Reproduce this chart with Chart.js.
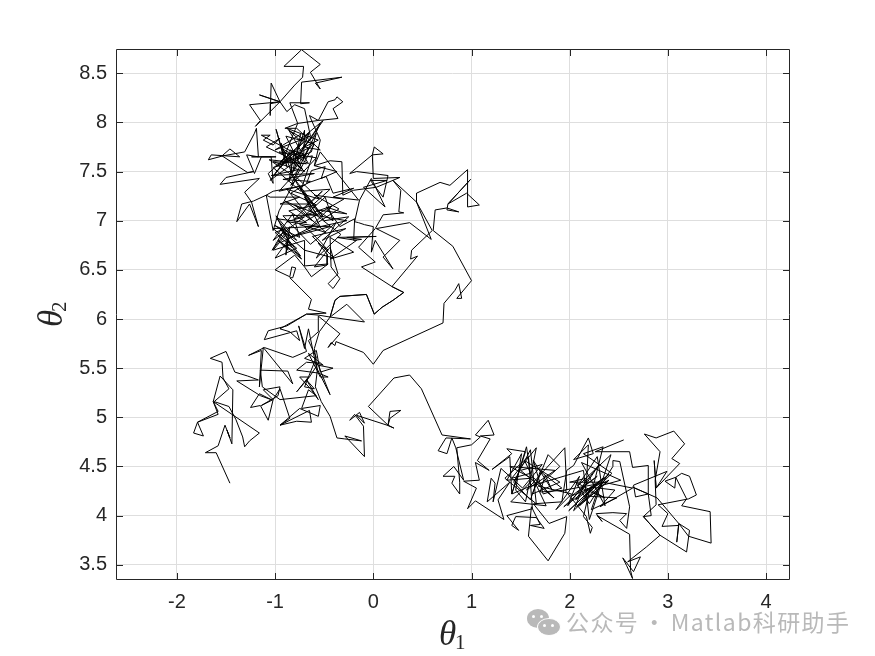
<!DOCTYPE html>
<html><head><meta charset="utf-8">
<style>
html,body{margin:0;padding:0;background:#fff;width:875px;height:656px;overflow:hidden}
#wrap{position:relative;width:875px;height:656px}
canvas{display:block}
#mark{position:absolute;left:566px;top:605px;font:23px "Noto Sans CJK SC","Noto Sans",sans-serif;color:#b9b9b9;letter-spacing:1.4px;white-space:nowrap;line-height:32px}
#mark span{margin:0 -3px 0 -3px}
.b{position:absolute;background:#b9b9b9;border-radius:50%}
.e{position:absolute;background:#fff;border-radius:50%;width:3px;height:3px}
</style></head><body>
<div id="wrap"><canvas id="c" width="875" height="656"></canvas>
<div class="b" style="left:527px;top:609px;width:22px;height:19px"></div>
<div class="e" style="left:532px;top:615px"></div><div class="e" style="left:540px;top:615px"></div>
<div class="b" style="left:537px;top:618px;width:22px;height:16px;border:1px solid #fff"></div>
<div class="e" style="left:543px;top:624px"></div><div class="e" style="left:551px;top:624px"></div>
<div id="mark">公众号<span> · </span>Matlab科研助手</div></div>
<script src="https://cdn.jsdelivr.net/npm/chart.js@4"></script>
<script>
const xTicks=[-2,-1,0,1,2,3,4];
const yTicks=[3.5,4,4.5,5,5.5,6,6.5,7,7.5,8,8.5];

const lowerT1=[-1.46,-1.60,-1.71,-1.58,-1.51,-1.46,-1.49,-1.44,-1.43,-1.56,
-1.63,-1.58,-1.79,-1.73,-1.83,-1.79,-1.58,-1.63,-1.16,-1.26,
-1.31,-1.33,-1.40,-1.47,-1.62,-1.47,-1.53,-1.54,-1.66,-1.50,
-1.41,-1.28,-1.17,-1.39,-1.15,-1.04,-1.16,-1.25,-1.15,-1.07,
-1.02,-1.12,-0.95,-0.97,-1.14,-1.02,-0.95,-0.85,-0.95,-0.65,
-0.63,-0.78,-0.95,-0.75,-0.56,-0.54,-0.73,-0.66,-0.58,-0.95];
const lowerT2=[4.33,4.64,4.64,4.71,4.92,4.79,4.87,4.73,5.28,5.42,
5.16,5.03,4.95,4.81,4.84,4.95,5.06,5.16,4.84,4.76,
4.70,4.80,4.98,5.11,5.16,5.29,5.40,5.56,5.60,5.67,
5.46,5.42,5.38,5.37,5.22,5.18,5.24,5.10,5.12,4.97,
5.18,5.28,5.31,5.22,5.12,5.18,5.29,4.99,4.92,5.07,
4.95,4.96,4.92,5.09,5.01,5.12,5.09,5.28,5.22,5.18];

const midT1=[-1.13,-1.15,-0.87,-0.82,-1.12,-1.16,-1.14,-1.27,-1.11,-0.82,
-0.68,-0.76,-0.70,-0.66,-0.58,-0.44,-0.56,-0.41,-0.54,-0.58,
-0.70,-0.51,-0.66,-0.54,-0.46,-0.56,-0.78,-0.68,-0.56,-0.65,
-0.78,-0.66,-0.75,-0.63,-0.56,-0.68,-0.60,-0.70,-0.58,-0.66,
-0.56,-0.56,-0.34,-0.46,-0.43,-0.39,-0.38,-0.10,0.00,0.10,
0.71,0.72,0.83];
const midT2=[5.31,5.48,5.47,5.34,5.71,5.31,5.68,5.63,5.71,5.61,
5.67,5.93,5.70,5.90,5.51,5.23,5.53,5.50,5.46,5.68,
5.60,5.53,5.65,5.41,5.41,5.45,5.48,5.56,5.55,5.41,
5.26,5.41,5.41,5.28,5.18,5.38,5.29,5.31,5.61,5.78,
5.87,6.03,5.85,5.71,5.76,5.73,5.77,5.66,5.54,5.68,
5.96,6.16,6.29];

const rightLoopT1=[0.87,0.90,0.85,1.00,0.81,0.61,0.63,0.75,0.87,0.75,
0.76,0.99,0.76,0.95,1.08,0.96,0.96,0.78,0.68,0.44,
0.44,0.60,0.39,0.38,0.45,0.19,0.31,0.20,0.09,0.01,
-0.07,-0.34,-0.39,-0.44,-0.27,-0.09,-0.44,-0.56,-0.68,-0.88,
-1.07,-1.11,-0.78,-0.75,-0.85,-0.95,-0.88,-0.68,-0.48,-0.66,
-0.63];
const rightLoopT2=[6.36,6.21,6.21,6.39,6.74,6.90,7.11,7.13,7.09,7.11,
7.17,7.42,7.17,7.28,7.16,7.14,7.52,7.36,7.39,7.28,
7.19,6.90,6.70,6.61,6.64,6.33,6.27,6.19,6.12,6.05,
6.25,6.23,6.19,6.02,6.15,5.97,6.02,6.04,6.05,5.93,
5.88,5.79,5.88,5.78,5.87,5.90,5.94,6.05,6.06,6.10,
6.20];

const upperLowT1=[-0.85,-0.82,-0.79,-0.83,-0.85,-1.00,-0.80,-0.70,-0.63,-0.46,
-0.70,-0.70,-1.02,-0.88,-0.87,-0.97,-0.73,-0.88,-0.89,-0.85,
-1.03,-0.90,-1.00,-0.83,-0.99,-0.78,-1.00,-0.75,-0.82,-1.02,
-0.70,-0.88,-0.54,-0.85,-0.44,-0.70,-0.58,-0.46,-0.56,-0.47,
-0.47,-0.60,-0.44,-0.36,-0.46,-0.41,-0.34,-0.43,-0.44,-0.20,
-0.44,-0.17,-0.37,0.03,-0.27,-0.12,-0.20,-0.19,-0.34,-0.48,
-0.27,-0.58,-0.41,-0.49,-0.68,-0.27,-0.54,-0.70,-0.58,-0.75,
-0.51,-0.82,-0.65,-0.95,-0.75,-1.05,-1.09,-1.02];
const upperLowT2=[6.42,6.42,6.52,6.53,6.43,6.50,6.65,6.53,6.43,6.56,
6.54,6.80,6.70,6.87,6.70,6.80,6.61,6.80,6.65,6.94,
6.70,6.92,6.88,6.73,7.05,6.80,6.95,6.83,7.07,6.80,
7.04,6.99,6.94,6.83,6.94,6.94,6.83,6.70,6.77,6.66,
6.55,6.53,6.73,6.46,6.36,6.31,6.41,6.53,6.83,6.68,
6.61,6.80,6.83,6.84,6.83,6.81,6.80,7.02,6.94,7.14,
7.07,7.11,7.00,7.24,7.07,7.00,6.94,7.24,7.07,7.34,
7.04,7.45,7.17,7.17,7.24,7.24,7.26,6.90];

const upperDenseT1=[-0.96,-0.78,-0.55,-0.88,-0.62,-0.90,-0.72,-0.52,-0.80,-0.42,
-0.66,-0.35,-0.60,-0.30,-0.75,-0.48,-0.80,-0.56,-0.92,-0.64,
-0.38,-0.58,-0.33,-0.66,-0.44,-0.72,-0.50,-0.25,-0.52,-0.28,
-0.62,-0.40,-0.70,-0.95,-0.74,-0.94,-0.62,-1.02,-0.78,-1.00,
-0.84,-0.98,-0.68,-0.86,-0.58,-0.84,-0.64,-0.92,-0.60,-1.04,
-0.76,-0.96,-0.70,-1.02];
const upperDenseT2=[7.10,7.44,7.22,7.32,7.00,7.20,7.12,7.30,7.02,7.15,
6.92,7.12,7.26,7.22,6.96,6.88,7.16,7.06,7.05,6.76,
6.98,6.62,6.86,7.12,7.32,7.30,7.00,7.04,6.80,6.92,
6.84,6.62,6.70,6.92,6.64,6.78,6.94,6.92,6.72,6.62,
6.84,7.02,6.98,7.10,7.16,7.28,7.40,7.42,7.48,7.46,
7.52,7.30,7.36,7.30];

const upperLeftT1=[-1.09,-1.22,-1.34,-1.39,-1.26,-1.17,-1.24,-1.31,-1.16,-1.56,
-1.50,-1.22,-1.28,-1.54,-1.46,-1.36,-1.65,-1.68,-1.53,-1.31,
-1.21,-1.19,-1.17,-1.29,-1.21,-1.14,-0.99,-1.24,-1.04,-1.02,
-1.07,-0.85,-1.05,-0.73];
const upperLeftT2=[7.26,7.20,7.17,6.99,7.17,6.94,7.19,7.29,7.43,7.37,
7.44,7.50,7.49,7.66,7.73,7.65,7.67,7.62,7.66,7.70,
7.89,7.94,7.65,7.67,7.48,7.65,7.65,7.65,7.65,7.38,
7.48,7.68,7.41,7.65];

const coreT1=[-1.14,-1.05,-1.12,-1.02,-0.95,-1.09,-0.92,-0.99,-0.88,-0.94,
-0.83,-0.85,-0.71,-0.99,-0.63,-0.58,-0.78,-0.70,-0.71,-0.54,
-0.82,-0.51,-0.75,-0.88,-0.56,-0.70,-0.54,-0.78,-0.90,-0.77,
-0.92,-0.71,-1.00,-0.65,-0.86,-0.80,-0.95,-0.62,-0.74,-1.02,
-0.66,-0.84,-0.58,-0.96,-0.72,-0.89,-0.60,-0.79,-1.06,-0.68,
-1.02,-0.70,-0.94,-0.66,-0.86,-0.62,-0.82,-0.74,-1.00,-0.64];
const coreT2=[7.87,7.87,7.82,7.77,7.84,7.75,7.67,7.93,7.55,7.79,
7.48,7.72,7.68,7.55,7.70,7.89,7.68,7.92,7.62,7.99,
7.58,8.02,7.82,7.94,7.82,7.75,7.72,7.94,7.94,7.99,
7.62,7.80,7.48,7.90,7.40,7.72,7.60,7.66,7.30,7.54,
7.74,7.36,7.64,7.70,7.52,7.86,7.78,7.44,7.62,7.58,
7.60,7.50,7.74,7.58,7.92,7.78,7.50,7.88,7.72,7.86];

const upperTopT1=[-0.70,-0.80,-0.88,-0.95,-1.04,-1.05,-1.05,-0.95,-1.16,-0.95,
-1.26,-1.15,-1.20,-0.95,-0.80,-0.72,-0.71,-0.91,-0.73,-0.54,
-0.64,-0.54,-0.59,-0.32,-0.73,-0.74,-0.65,-0.85,-0.77,-0.56,
-0.36,-0.41,-0.31,-0.37,-0.39,-0.46,-0.56,-0.65,-0.54];
const upperTopT2=[8.14,8.18,8.11,8.21,8.40,8.07,8.19,8.21,8.28,8.21,
8.18,8.02,7.96,8.21,8.38,8.46,8.57,8.57,8.74,8.59,
8.51,8.34,8.40,8.46,8.41,8.19,8.20,8.20,7.99,8.02,
8.04,8.14,8.21,8.26,8.23,8.21,8.02,8.07,7.82];

const upperRightT1=[-0.60,-0.37,-0.53,-0.49,-0.63,-0.68,-0.48,-0.41,-0.20,-0.41,
-0.15,-0.54,-0.60,-0.44,-0.32,-0.31,-0.20,0.03,0.27,0.00,
-0.01,0.01,0.10,-0.01,-0.24,-0.17,0.15,0.10,-0.03,0.14,
-0.10,0.12,-0.02,-0.14,-0.19,-0.15,-0.09,0.00,-0.02,0.02,
0.20,0.10,0.27,0.03,0.37,0.59,0.44,0.20,0.28,0.26,
0.31,0.10,0.02,-0.15,0.02,-0.12,0.19,0.31,0.20,0.09,0.01,
-0.07,-0.34,-0.39,-0.44,-0.55,-0.60,-0.57,-0.59,-0.53];
const upperRightT2=[7.56,7.50,7.43,7.55,7.51,7.38,7.45,7.28,7.33,7.24,
7.21,7.70,7.56,7.61,7.60,7.26,7.31,7.34,7.44,7.43,
7.67,7.75,7.68,7.67,7.48,7.50,7.46,7.24,7.41,7.41,
7.34,7.14,7.43,7.21,6.99,6.98,6.96,6.94,6.68,6.80,
6.51,6.63,6.80,6.92,6.98,6.81,7.19,7.41,7.31,7.09,
7.08,7.06,6.92,6.73,6.58,6.53,6.33,6.27,6.19,6.12,6.05,
6.25,6.23,6.19,6.02,5.87,5.70,5.48,5.31,5.16];

const bridgeT1=[-0.44,-0.37,-0.29,-0.12,-0.29,-0.09,-0.10,-0.19,-0.24,-0.14,
-0.09,-0.17,0.14,0.21,0.15,0.17,0.28,0.17,0.15,-0.05,
0.21,0.37,0.49,0.70];
const bridgeT2=[5.01,4.79,4.78,4.76,4.81,4.60,4.91,5.03,4.97,5.05,
4.94,5.02,4.92,4.89,4.92,4.99,5.07,5.06,4.92,5.11,
5.40,5.43,5.29,4.82];

const clusterLeftT1=[0.99,0.74,0.66,0.75,0.80,0.84,0.92,0.82,0.71,0.83,
0.80,0.88,0.88,0.85,1.00,1.09,1.04,1.17,1.23,1.09,
1.19,1.06,1.18,1.04,1.08,0.92,1.05,0.96,1.04,1.33,
1.27,1.39,1.16,1.20,1.24,1.22];
const clusterLeftT2=[4.78,4.79,4.66,4.63,4.79,4.69,4.36,4.50,4.40,4.40,
4.33,4.22,4.34,4.69,4.72,4.80,4.82,4.97,4.82,4.81,
4.78,4.56,4.46,4.54,4.36,4.35,4.28,4.07,4.15,3.96,
4.16,4.34,4.14,4.38,4.33,4.14];

const clusterDenseT1=[1.30,1.52,1.72,1.50,1.84,1.64,1.40,1.76,1.54,1.90,
1.62,1.78,1.90,1.68,2.02,1.86,2.10,1.98,2.30,2.06,
2.40,2.16,2.48,2.22,2.30,2.52,2.12,2.36,2.28,2.08,
2.42,2.20,2.14,1.60];
const clusterDenseT2=[4.48,4.28,4.52,4.46,4.18,4.38,4.14,4.10,4.56,4.34,
4.22,4.62,4.50,4.30,4.22,4.06,4.40,4.10,4.52,4.16,
4.42,4.20,4.18,4.06,4.30,4.36,4.54,4.10,4.60,4.30,
4.62,3.96,4.46,4.30];

const clusterMidT1=[1.41,1.39,1.21,1.41,1.36,1.55,1.41,1.56,1.60,1.41,
1.66,1.55,1.45,1.51,1.36,1.61,1.39,1.85,1.56,1.95,
1.97,1.70,1.75,1.82,1.63,1.73,1.92,1.70,1.60,1.43,
1.60,1.66,1.34,1.58,1.62,1.36,1.48,1.41,1.45,1.66,
1.74,1.60,1.70,1.61,1.58,1.78,1.95,1.97,1.79,1.63,
1.92,1.97,2.04,2.19,2.24,2.04,2.19,2.17,1.94,2.34,
1.99,2.21,2.07,2.38,1.95,2.17,2.21,2.23,2.14,2.21,
2.46,2.31,2.64,2.34,2.00,2.17,2.04,2.43,2.14,2.34,
2.24,2.10,2.40,2.02,2.28,2.12,2.36,2.06,2.20,2.44,
2.44,2.51,2.61,2.58,2.51,2.58,2.44,2.27,2.33,2.28,
2.61,2.62];
const clusterMidT2=[4.22,4.60,4.47,4.63,4.68,4.65,4.22,4.70,4.43,4.38,
4.69,4.14,4.26,4.63,4.36,4.38,4.50,4.46,4.26,4.69,
4.26,4.24,4.41,4.26,4.56,4.22,4.28,4.45,4.16,4.34,
4.67,4.12,4.38,4.60,4.07,4.00,3.85,3.90,3.99,3.98,
3.87,3.90,3.91,4.09,3.79,3.54,3.82,3.99,3.92,4.12,
4.14,4.46,4.51,4.79,4.63,4.57,4.72,4.31,4.09,4.38,
4.05,4.26,4.09,4.34,4.26,3.99,3.82,3.88,3.99,4.29,
4.26,4.09,4.28,4.34,4.34,4.38,4.05,4.43,4.63,4.70,
4.30,4.10,4.36,4.20,4.40,4.28,4.18,4.34,4.12,4.50,
4.56,4.55,4.09,3.87,3.95,4.02,4.03,4.02,3.94,4.00,
3.81,3.44];

const clusterRightT1=[2.64,2.58,2.54,2.65,2.72,2.59,2.78,2.92,3.19,3.22,
3.11,3.09,3.11,2.94,3.00,2.90,3.21,3.29,3.22,3.14,
3.08,2.97,3.07,3.08,3.19,3.14,3.43,3.44,3.21,3.11,
2.89,2.80,2.67,2.65,2.99,2.88,2.86,2.88,3.12,3.04,
3.17,3.06,2.88,2.76,2.92,2.87,2.88,2.75,2.92,
2.75,2.83,2.80,2.64,2.80,2.80,2.64,2.61,2.38,2.26,2.55];
const clusterRightT2=[3.36,3.49,3.57,3.43,3.58,3.53,3.68,3.80,3.63,3.85,
3.92,3.73,3.90,3.89,4.02,4.11,4.17,4.21,4.40,4.43,
4.39,4.35,4.28,4.39,4.17,4.10,4.04,3.72,3.79,3.92,
4.18,4.22,4.19,4.31,4.45,4.28,4.56,4.28,4.53,4.58,
4.73,4.86,4.79,4.83,4.65,4.36,4.11,3.99,3.80,
3.99,4.00,4.22,4.29,4.22,4.51,4.49,4.65,4.65,4.65,4.77];

const theta1=[...lowerT1,...midT1,...rightLoopT1,...upperLowT1,...upperDenseT1,...upperLeftT1,...coreT1,...upperTopT1,...upperRightT1,...bridgeT1,...clusterLeftT1,...clusterDenseT1,...clusterMidT1,...clusterRightT1];
const theta2=[...lowerT2,...midT2,...rightLoopT2,...upperLowT2,...upperDenseT2,...upperLeftT2,...coreT2,...upperTopT2,...upperRightT2,...bridgeT2,...clusterLeftT2,...clusterDenseT2,...clusterMidT2,...clusterRightT2];
const xRange=[-2.62,4.233], yRange=[3.355,8.747];

const frame={id:'frame',afterDraw(ch){
  const {ctx,chartArea:a,scales:{x,y}}=ch;
  ctx.save();ctx.strokeStyle='#262626';ctx.lineWidth=1;ctx.beginPath();
  const l=a.left+.5,r=a.right+.5,t=a.top+.5,b=a.bottom+.5,len=6.5;
  ctx.rect(l,t,r-l,b-t);
  xTicks.forEach(v=>{const p=Math.round(x.getPixelForValue(v))+.5;ctx.moveTo(p,b);ctx.lineTo(p,b-len);ctx.moveTo(p,t);ctx.lineTo(p,t+len);});
  yTicks.forEach(v=>{const p=Math.round(y.getPixelForValue(v))+.5;ctx.moveTo(l,p);ctx.lineTo(l+len,p);ctx.moveTo(r,p);ctx.lineTo(r-len,p);});
  ctx.stroke();
  ctx.fillStyle='#262626';ctx.textBaseline='alphabetic';ctx.textAlign='left';
  const th='italic 35px "Liberation Serif","DejaVu Serif",serif', sub='21px "Liberation Serif","DejaVu Serif",serif';
  ctx.font=th;ctx.fillText('θ',439,645);
  ctx.font=sub;ctx.fillText('1',455,649);
  ctx.translate(62,327);ctx.rotate(-Math.PI/2);
  ctx.font=th;ctx.fillText('θ',0,0);
  ctx.font=sub;ctx.fillText('2',15,4);
  ctx.restore();
}};
const tickFont={family:'"Liberation Sans",Arial,sans-serif',size:20};
new Chart(document.getElementById('c'),{
  type:'scatter',
  data:{datasets:[{data:theta1.map((v,i)=>({x:v,y:theta2[i]})),showLine:true,borderColor:'#000',borderWidth:1,pointRadius:0,tension:0,fill:false}]},
  options:{responsive:false,animation:false,devicePixelRatio:1,
    layout:{padding:{top:49,right:86,left:0,bottom:0}},
    plugins:{legend:{display:false},tooltip:{enabled:false}},
    scales:{
      x:{type:'linear',min:xRange[0],max:xRange[1],
        afterBuildTicks(s){s.ticks=xTicks.map(v=>({value:v}));},
        afterFit(s){s.height=77;},
        grid:{color:'#dedede',lineWidth:1,drawTicks:false},border:{display:false},
        ticks:{font:tickFont,color:'#262626',padding:11,maxRotation:0,autoSkip:false,callback:v=>String(v)}},
      y:{type:'linear',min:yRange[0],max:yRange[1],
        afterBuildTicks(s){s.ticks=yTicks.map(v=>({value:v}));},
        afterFit(s){s.width=116;},
        grid:{color:'#dedede',lineWidth:1,drawTicks:false},border:{display:false},
        ticks:{font:tickFont,color:'#262626',padding:9,autoSkip:false,callback:v=>String(v)}}
    }},
  plugins:[frame]
});
</script></body></html>
